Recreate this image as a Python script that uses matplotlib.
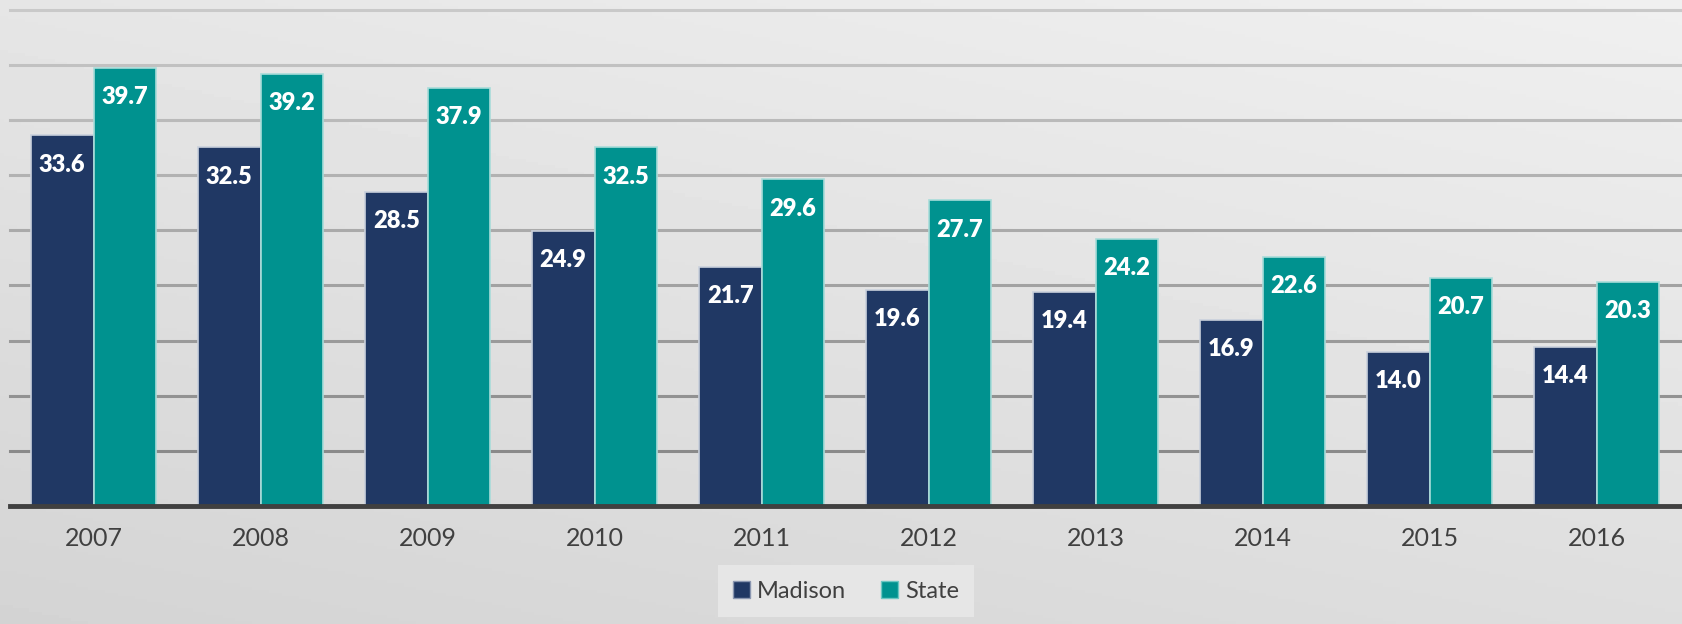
import matplotlib.pyplot as plt
import numpy as np
from matplotlib.patches import Patch

years = ['2007', '2008', '2009', '2010', '2011', '2012', '2013', '2014', '2015', '2016']
madison = [33.6, 32.5, 28.5, 24.9, 21.7, 19.6, 19.4, 16.9, 14.0, 14.4]
state = [39.7, 39.2, 37.9, 32.5, 29.6, 27.7, 24.2, 22.6, 20.7, 20.3]

navy = '#203864'
teal = '#00928F'

plt.rcParams['font.family'] = ['Lato', 'DejaVu Sans']

fig = plt.figure(figsize=(16.82, 6.24), dpi=100)

# gradient background over the whole figure
bg = fig.add_axes([0, 0, 1, 1], zorder=-10)
yy, xx = np.mgrid[0:1:200j, 0:1:400j]
shade = 0.83 + 0.07 * yy + 0.04 * xx
bg.imshow(shade, cmap='gray', vmin=0, vmax=1, origin='lower', aspect='auto',
          extent=[0, 1, 0, 1])
bg.axis('off')

ax = fig.add_axes([10 / 1682, 118 / 624, 1670 / 1682, 496.4 / 624])
ax.patch.set_alpha(0)

x = np.arange(len(years))
w = 0.375
b1 = ax.bar(x - w / 2, madison, w, color=navy, edgecolor='#c9d0dc', linewidth=1.2, zorder=3)
b2 = ax.bar(x + w / 2, state, w, color=teal, edgecolor='#a8dcd9', linewidth=1.2, zorder=3)

for bars, vals in ((b1, madison), (b2, state)):
    for r, v in zip(bars, vals):
        ax.annotate(f'{v:.1f}', (r.get_x() + r.get_width() / 2, v),
                    xytext=(0, -21), textcoords='offset points',
                    ha='center', va='center', color='white',
                    fontsize=17, fontweight='heavy', zorder=4)

ax.set_xlim(-0.5, len(years) - 0.5)
ax.set_ylim(0, 45)
# gridlines get lighter towards the top
grid_vals = np.arange(5, 46, 5)
for g in grid_vals:
    c = 0.54 + 0.25 * (g - 5) / 40
    ax.axhline(g, color=(c, c, c), linewidth=2.2, zorder=1, clip_on=False)
ax.tick_params(axis='y', left=False, labelleft=False)
ax.set_yticks([])
ax.set_xticks(x)
ax.set_xticklabels(years, fontsize=18, color='#404040')
ax.tick_params(axis='x', length=0, pad=15)
for s in ('top', 'right', 'left'):
    ax.spines[s].set_visible(False)
ax.spines['bottom'].set_color('#404040')
ax.spines['bottom'].set_linewidth(3.5)
ax.spines['bottom'].set_zorder(5)

handles = [Patch(facecolor=navy, edgecolor='#8a96b0', label='Madison'),
           Patch(facecolor=teal, edgecolor='#6cc6c2', label='State')]
leg = fig.legend(handles=handles, loc='center', bbox_to_anchor=(846 / 1682, 33 / 624),
                 ncol=2, fontsize=17, frameon=True, fancybox=False,
                 handlelength=0.7, handleheight=0.7, handletextpad=0.3,
                 columnspacing=1.5, borderpad=0.65)
leg.get_frame().set_facecolor('#e6e6e6')
leg.get_frame().set_edgecolor('none')
leg.get_frame().set_alpha(1)
for t in leg.get_texts():
    t.set_color('#404040')

fig.savefig('out.png', dpi=100)
